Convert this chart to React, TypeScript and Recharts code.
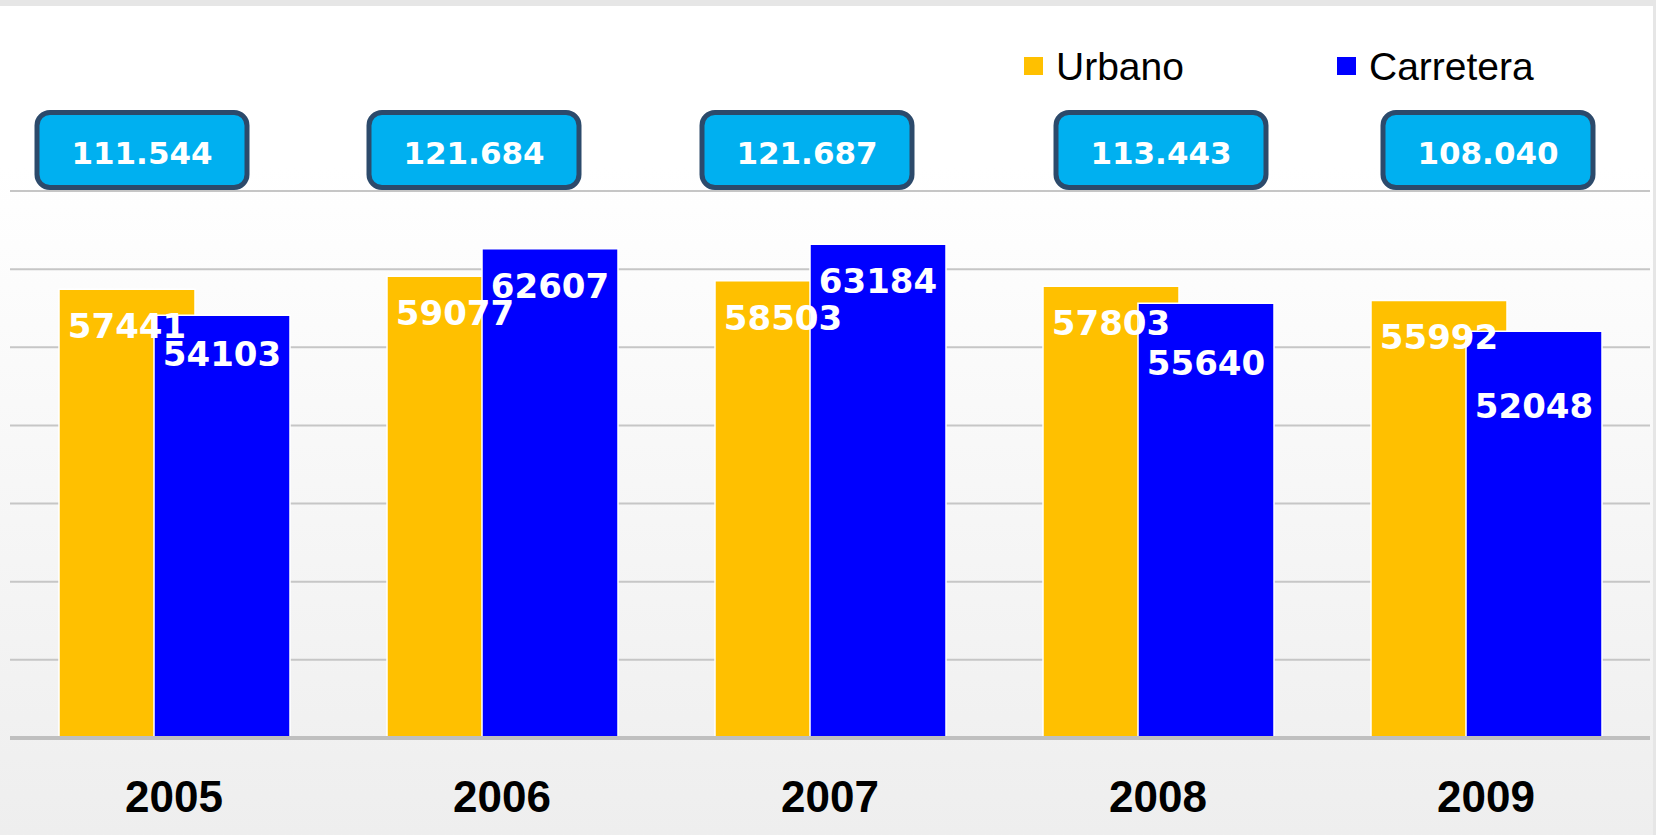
import { BarChart, Bar, XAxis, YAxis, CartesianGrid, LabelList } from "recharts";

const years = ["2005", "2006", "2007", "2008", "2009"];
const urbano = [57441, 59077, 58503, 57803, 55992];
const carretera = [54103, 62607, 63184, 55640, 52048];
const yTicks = [0, 10000, 20000, 30000, 40000, 50000, 60000, 70000];

// small nudges so the labels sit where they do in the original
const carreteraLabelShift = [2, 0, 0, 23, 38];
const totalBoxShift = [-32, -28, -23, 3, 2];

const data = years.map((year, i) => ({
  year,
  urbano: urbano[i],
  carretera: carretera[i],
  total: urbano[i] + carretera[i],
}));

const W = 1656;
const H = 835;

function formatTotal(n: number) {
  const thousands = Math.floor(n / 1000);
  const rest = String(n % 1000).padStart(3, "0");
  return `${thousands}.${rest}`;
}

function YearTick({ x, y, payload }: any) {
  return (
    <text
      x={x}
      y={y + 74}
      textAnchor="middle"
      fill="#000"
      fontSize={44}
      fontWeight={700}
      fontFamily="'Liberation Sans', Arial, sans-serif"
    >
      {payload.value}
    </text>
  );
}

function TotalTick({ x, y, index }: any) {
  const row = data[index];
  if (!row) return null;
  const cx = x + totalBoxShift[index];
  return (
    <g>
      <rect
        x={cx - 105}
        y={y - 78.5}
        width={210}
        height={75}
        rx={13}
        ry={13}
        fill="#00B0F0"
        stroke="#2C4A6B"
        strokeWidth={5}
      />
      <text
        x={cx}
        y={y - 27}
        textAnchor="middle"
        fill="#fff"
        fontSize={31}
        fontWeight={700}
        fontFamily="'DejaVu Sans', Verdana, sans-serif"
      >
        {formatTotal(row.total)}
      </text>
    </g>
  );
}

function barLabel(shifts: number[] | null) {
  return (props: any) => {
    const { x, y, width, value, index } = props;
    const extra = shifts ? shifts[index] : 0;
    return (
      <text
        x={x + width / 2}
        y={y + 49 + extra}
        textAnchor="middle"
        fill="#fff"
        fontSize={34}
        fontWeight={700}
        fontFamily="'DejaVu Sans', Verdana, sans-serif"
      >
        {value}
      </text>
    );
  };
}

export default function App() {
  return (
    <div
      style={{
        position: "absolute",
        left: 0,
        top: 0,
        width: W,
        height: H,
        background: "linear-gradient(#ffffff 0%, #ffffff 20%, #eeeeee 100%)",
        overflow: "hidden",
      }}
    >
      <div style={{ position: "absolute", left: 0, top: 0, width: W, height: 6, background: "#e6e6e6" }} />
      <div style={{ position: "absolute", right: 0, top: 0, width: 3, height: H, background: "#e6e6e6" }} />

      <BarChart
        width={W}
        height={H}
        data={data}
        margin={{ top: 91, right: 6, left: 10, bottom: 0 }}
        barSize={136}
        barGap={-41}
        style={{ position: "absolute", left: 0, top: 0 }}
      >
        <CartesianGrid horizontal vertical={false} stroke="#c6c6c6" strokeWidth={2} />
        <XAxis
          xAxisId="top"
          dataKey="year"
          orientation="top"
          height={100}
          axisLine={false}
          tickLine={false}
          tickSize={0}
          tickMargin={0}
          tick={<TotalTick />}
          interval={0}
        />
        <XAxis
          dataKey="year"
          height={97}
          axisLine={{ stroke: "#bfbfbf", strokeWidth: 4 }}
          tickLine={false}
          tickSize={0}
          tickMargin={0}
          tick={<YearTick />}
          interval={0}
        />
        <YAxis hide domain={[0, 70000]} ticks={yTicks} />
        <Bar dataKey="urbano" name="Urbano" fill="#FFC000" stroke="#ffffff" strokeWidth={1.5} isAnimationActive={false}>
          <LabelList dataKey="urbano" content={barLabel(null)} />
        </Bar>
        <Bar dataKey="carretera" name="Carretera" fill="#0000FF" stroke="#ffffff" strokeWidth={1.5} isAnimationActive={false}>
          <LabelList dataKey="carretera" content={barLabel(carreteraLabelShift)} />
        </Bar>
      </BarChart>

      <svg width={W} height={110} style={{ position: "absolute", left: 0, top: 0 }}>
        <rect x={1024} y={57} width={19} height={18} fill="#FFC000" />
        <text x={1056} y={80} fontSize={39} fill="#000" fontFamily="'Liberation Sans', Arial, sans-serif">
          Urbano
        </text>
        <rect x={1337} y={57} width={19} height={18} fill="#0000FF" />
        <text x={1369} y={80} fontSize={39} fill="#000" fontFamily="'Liberation Sans', Arial, sans-serif">
          Carretera
        </text>
      </svg>
    </div>
  );
}
